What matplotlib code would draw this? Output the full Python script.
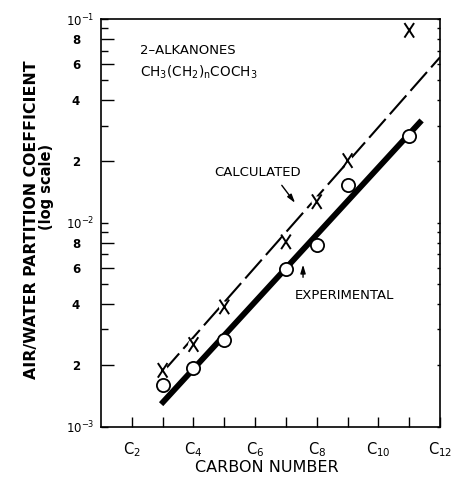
import numpy as np
import matplotlib
matplotlib.use("Agg")
import matplotlib.pyplot as plt
from matplotlib.path import Path
from matplotlib.ticker import FixedLocator, FixedFormatter, NullFormatter

# ---- data ----
carbon = [3, 4, 5, 7, 8, 9, 11]
calculated = [1.89e-3, 2.53e-3, 3.87e-3, 8.07e-3, 1.27e-2, 2.02e-2, 8.8e-2]
experimental = [1.60e-3, 1.93e-3, 2.65e-3, 5.93e-3, 7.78e-3, 1.53e-2, 2.67e-2]
calc_line_x = [3.0, 12.0]
calc_line_y = [1.85e-3, 6.5e-2]
exp_line_x = [2.95, 11.4]
exp_line_y = [1.29e-3, 3.18e-2]

xtick_pos = [2, 4, 6, 8, 10, 12]
xtick_labels = [r'$\mathregular{C_{%d}}$' % n for n in xtick_pos]
decades = [1e-3, 1e-2, 1e-1]
decade_labels = [r'$\mathregular{10^{-3}}$', r'$\mathregular{10^{-2}}$', r'$\mathregular{10^{-1}}$']
digit_mult = [2, 4, 6, 8]
other_mult = [1, 3, 5, 7, 9]

plt.rcParams['font.family'] = ['DejaVu Sans']

fig = plt.figure(figsize=(4.57, 4.84), dpi=100)
ax = fig.add_axes([0.221, 0.1184, 0.742, 0.8423])
ax.set_yscale('log')
ax.set_xlim(1, 12)
ax.set_ylim(1e-3, 1e-1)

# experimental fit line (thick solid)
ax.plot(exp_line_x, exp_line_y, color='black', lw=4.2, solid_capstyle='butt', zorder=2)
# calculated line (dashed)
ax.plot(calc_line_x, calc_line_y, color='black', lw=1.5, linestyle=(0, (12, 3)),
        dash_capstyle='butt', zorder=2)

# white gaps around X markers
ax.scatter(carbon, calculated, s=60, marker='o', color='white', edgecolors='none', zorder=3)
xpath = Path([(-0.33, -0.5), (0.33, 0.5), (-0.33, 0.5), (0.33, -0.5)],
             [Path.MOVETO, Path.LINETO, Path.MOVETO, Path.LINETO])
ax.scatter(carbon, calculated, s=110, marker=xpath, facecolors='none',
           edgecolors='black', linewidths=1.4, zorder=4)
ax.plot(carbon, experimental, linestyle='none', marker='o', markersize=9.5,
        markerfacecolor='white', markeredgecolor='black', markeredgewidth=1.3, zorder=4)

# x ticks
ax.xaxis.set_major_locator(FixedLocator(xtick_pos))
ax.xaxis.set_major_formatter(FixedFormatter(xtick_labels))
ax.xaxis.set_minor_locator(FixedLocator([3, 5, 7, 9, 11]))
ax.tick_params(axis='x', which='both', direction='in', length=7, width=1.0,
               top=False, bottom=True, labelsize=10.5, pad=10)

# y ticks: labelled digits (major), short others (minor)
maj = [m * 10.0 ** k for k in (-3, -2) for m in digit_mult]
mino = [m * 10.0 ** k for k in (-3, -2) for m in other_mult] + [1e-1]
ax.yaxis.set_major_locator(FixedLocator(maj))
ax.yaxis.set_major_formatter(FixedFormatter([str(m) for k in (-3, -2) for m in digit_mult]))
ax.yaxis.set_minor_locator(FixedLocator(mino))
ax.yaxis.set_minor_formatter(NullFormatter())
ax.tick_params(axis='y', which='major', direction='in', length=9, width=1.0,
               labelsize=8.5, pad=15, right=False)
ax.tick_params(axis='y', which='minor', direction='in', length=5, width=1.0, right=False)
for lab in ax.get_yticklabels():
    lab.set_fontweight('bold')

sec = ax.secondary_yaxis('left')
sec.set_yticks(decades)
sec.set_yticklabels(decade_labels)
sec.tick_params(length=0, pad=5, labelsize=8.5)
sec.yaxis.set_minor_locator(FixedLocator([]))
sec.spines['left'].set_visible(False)

secr = ax.secondary_yaxis('right')
secr.set_yticks(sorted(maj + mino))
secr.yaxis.set_major_formatter(NullFormatter())
secr.yaxis.set_minor_locator(FixedLocator([]))
secr.tick_params(direction='in', length=2.5, width=1.0)
secr.spines['right'].set_visible(False)

for s in ax.spines.values():
    s.set_linewidth(1.2)

# annotations
ax.text(0.115, 0.924, '2\u2013ALKANONES', transform=ax.transAxes, fontsize=9.5,
        ha='left', va='center')
ax.text(0.115, 0.870, r'$\mathregular{CH_3(CH_2)_nCOCH_3}$', transform=ax.transAxes,
        fontsize=9.8, ha='left', va='center')
ax.text(6.08, 0.0176, 'CALCULATED', fontsize=9.5, ha='center', va='center')
ax.annotate('', xy=(7.35, 0.01222), xytext=(6.81, 0.01567),
            arrowprops=dict(arrowstyle='-|>,head_length=0.5,head_width=0.15', color='black', lw=1.0))
ax.text(8.885, 0.00441, 'EXPERIMENTAL', fontsize=9.5, ha='center', va='center')
ax.annotate('', xy=(7.554, 0.00644), xytext=(7.554, 0.00524),
            arrowprops=dict(arrowstyle='-|>,head_length=0.5,head_width=0.15', color='black', lw=1.0))

fig.text(32 / 457, 1 - 220 / 484, 'AIR/WATER PARTITION COEFFICIENT', rotation=90,
         ha='center', va='center', fontsize=11.3, fontweight='bold')
fig.text(46 / 457, 1 - 187 / 484, '(log scale)', rotation=90,
         ha='center', va='center', fontsize=10.5, fontweight='bold')
fig.text(266.7 / 457, 1 - 467 / 484, 'CARBON NUMBER', ha='center', va='center',
         fontsize=11.5)

fig.savefig('out.png', dpi=100)
